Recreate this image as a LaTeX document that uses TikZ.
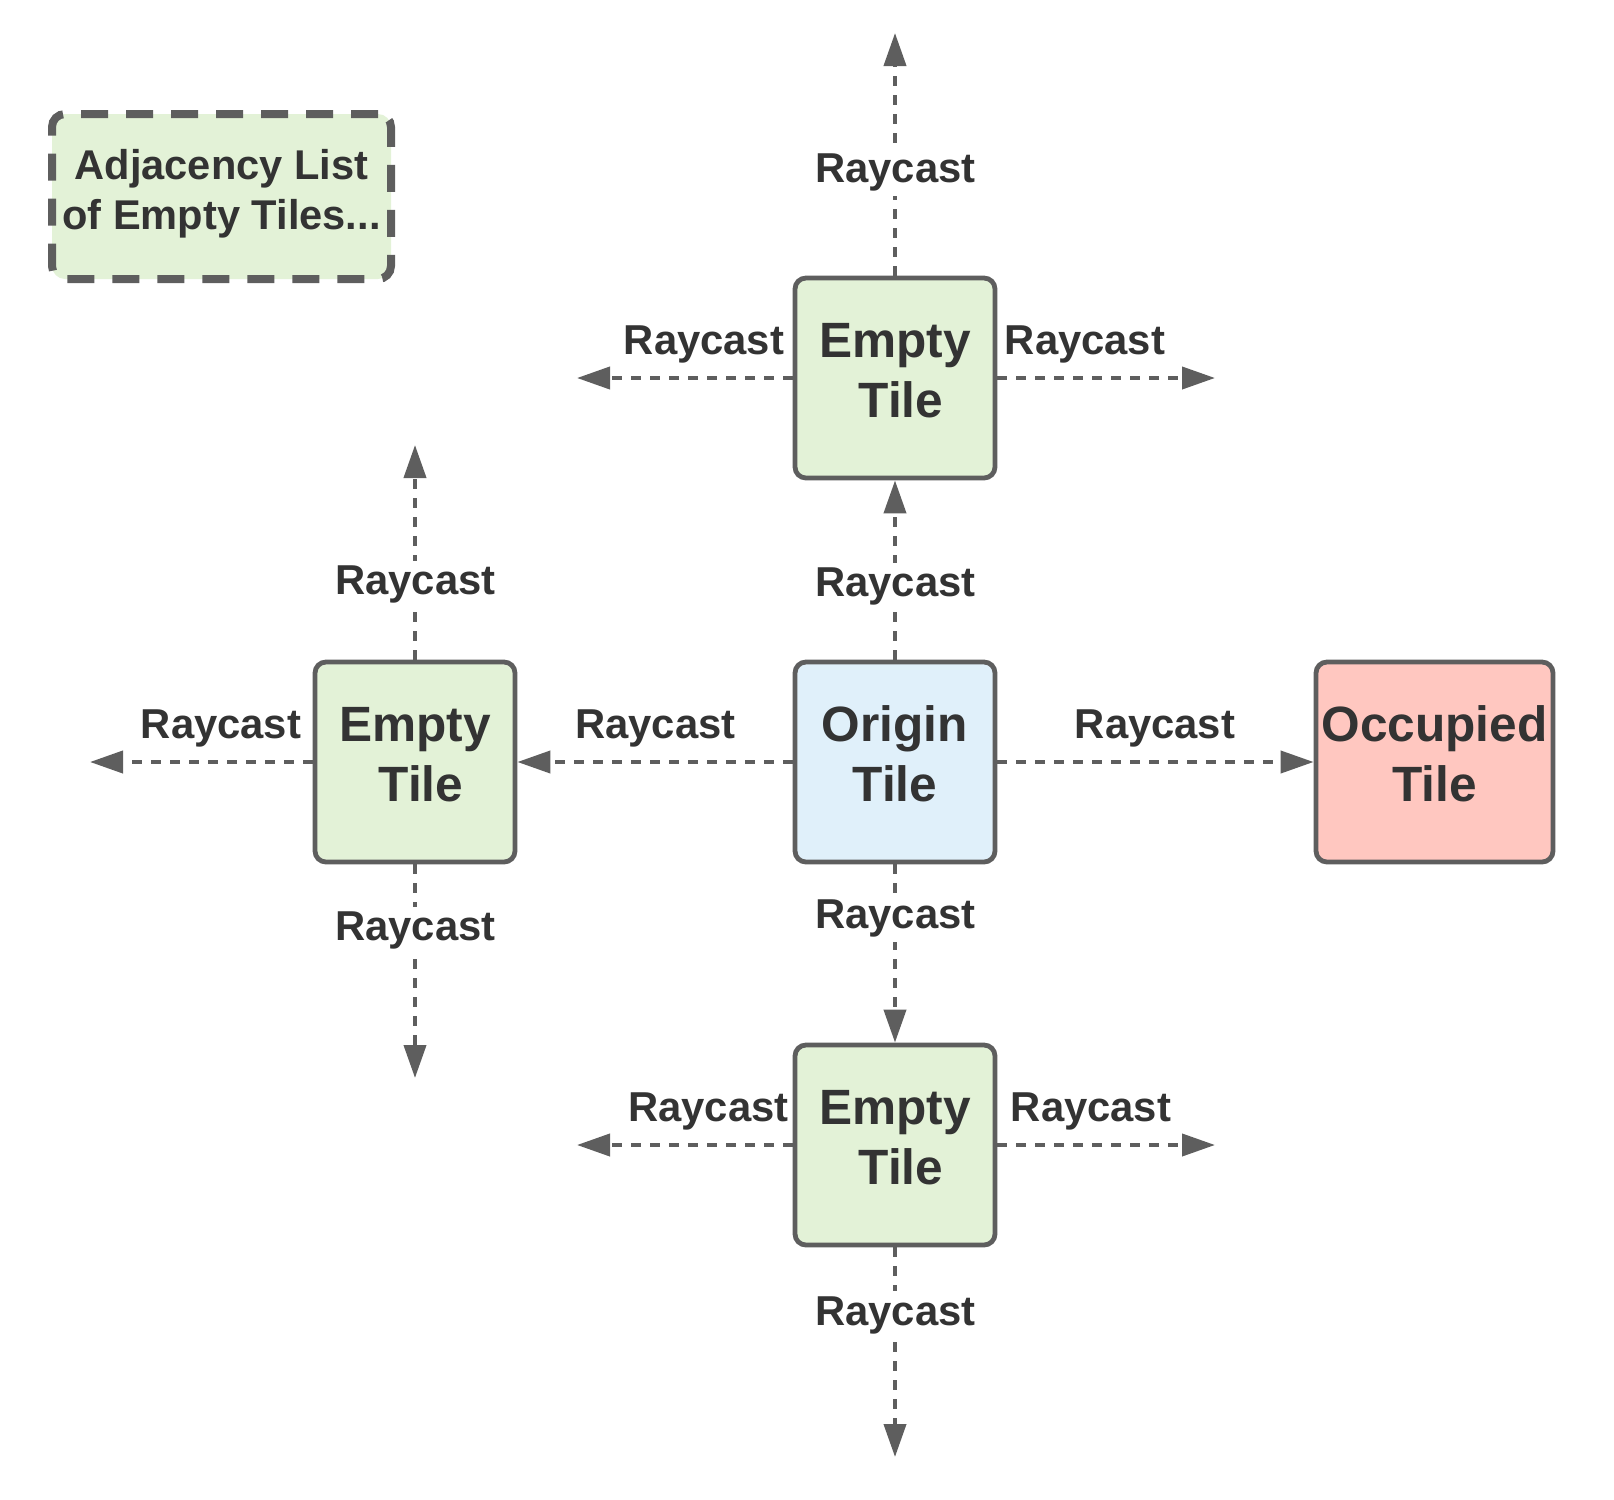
\documentclass[tikz,border=0pt]{standalone}
\usepackage{fontspec}
\setmainfont{Liberation Sans}
\usetikzlibrary{arrows.meta}
\definecolor{edgegray}{HTML}{5E5E5E}
\definecolor{txt}{HTML}{333333}
\definecolor{greenfill}{HTML}{E3F2D7}
\definecolor{bluefill}{HTML}{E0F0FA}
\definecolor{redfill}{HTML}{FFC7C0}
\begin{document}
\begin{tikzpicture}[x=0.5pt,y=-0.5pt,
  tile/.style={draw=edgegray, line width=2.4pt, rounded corners=5.5pt,
    minimum width=100pt, minimum height=100pt, inner sep=0pt, align=center,
    font=\fontsize{24.8}{30}\selectfont\bfseries, text=txt, text depth=8pt},
  rc/.style={font=\fontsize{20.9}{24}\selectfont\bfseries, text=txt, inner sep=0pt, anchor=base},
  rcv/.style={rc, fill=white, inner sep=2.5pt},
  ray/.style={draw=edgegray, line width=2pt, dash pattern=on 5pt off 4.5pt,
    -{Triangle[length=16.5pt,width=11pt]}}
]
\useasboundingbox (0,0) rectangle (1614,1500);

% legend box
\node[draw=edgegray, line width=4pt, dash pattern=on 13.5pt off 9pt, rounded corners=6.5pt,
  fill=greenfill, minimum width=169.5pt, minimum height=82.5pt, inner sep=0pt, align=center,
  font=\fontsize{20.8}{25}\selectfont\bfseries, text=txt, text depth=7pt]
  (legend) at (221.5,196.5) {Adjacency List\\of Empty Tiles...};

% tiles
\node[tile, fill=greenfill] (top) at (895,378) {Empty\\\hspace*{6pt}Tile};
\node[tile, fill=bluefill] (origin) at (895,762) {Origin\\Tile};
\node[tile, fill=greenfill] (left) at (415,762) {Empty\\\hspace*{6pt}Tile};
\node[tile, fill=redfill, minimum width=118.5pt] (occ) at (1434.5,762) {Occupied\\Tile};
\node[tile, fill=greenfill] (bottom) at (895,1145) {Empty\\\hspace*{6pt}Tile};

% free ends
\coordinate (topU) at (895,33);
\coordinate (topL) at (577,378);
\coordinate (topR) at (1215,378);
\coordinate (leftU) at (415,445);
\coordinate (leftL) at (90,762);
\coordinate (leftD) at (415,1078);
\coordinate (botL) at (577,1145);
\coordinate (botR) at (1215,1145);
\coordinate (botD) at (895,1457);

% rays
\draw[ray] (top.north) -- (topU);
\draw[ray] (top.west) -- (topL);
\draw[ray] (top.east) -- (topR);
\draw[ray] (origin.north) -- (top.south);
\draw[ray] (origin.west) -- (left.east);
\draw[ray] (origin.east) -- (occ.west);
\draw[ray] (origin.south) -- (bottom.north);
\draw[ray] (left.north) -- (leftU);
\draw[ray] (left.west) -- (leftL);
\draw[ray] (left.south) -- (leftD);
\draw[ray] (bottom.west) -- (botL);
\draw[ray] (bottom.east) -- (botR);
\draw[ray] (bottom.south) -- (botD);

% labels
\node[rcv] (l1) at (895.5,182) {Raycast};
\node[rc] (l2) at (704,354) {Raycast};
\node[rc] (l3) at (1085,354) {Raycast};
\node[rcv] (l4) at (895.5,596.5) {Raycast};
\node[rc] (l5) at (655.5,738) {Raycast};
\node[rc] (l6) at (1155,738) {Raycast};
\node[rcv] (l7) at (895.5,928.5) {Raycast};
\node[rcv] (l8) at (415.5,594.5) {Raycast};
\node[rc] (l9) at (221,738) {Raycast};
\node[rcv] (l10) at (415.5,940.5) {Raycast};
\node[rc] (l11) at (708.5,1121) {Raycast};
\node[rc] (l12) at (1091,1121) {Raycast};
\node[rcv] (l13) at (895.5,1325) {Raycast};
\end{tikzpicture}
\end{document}
